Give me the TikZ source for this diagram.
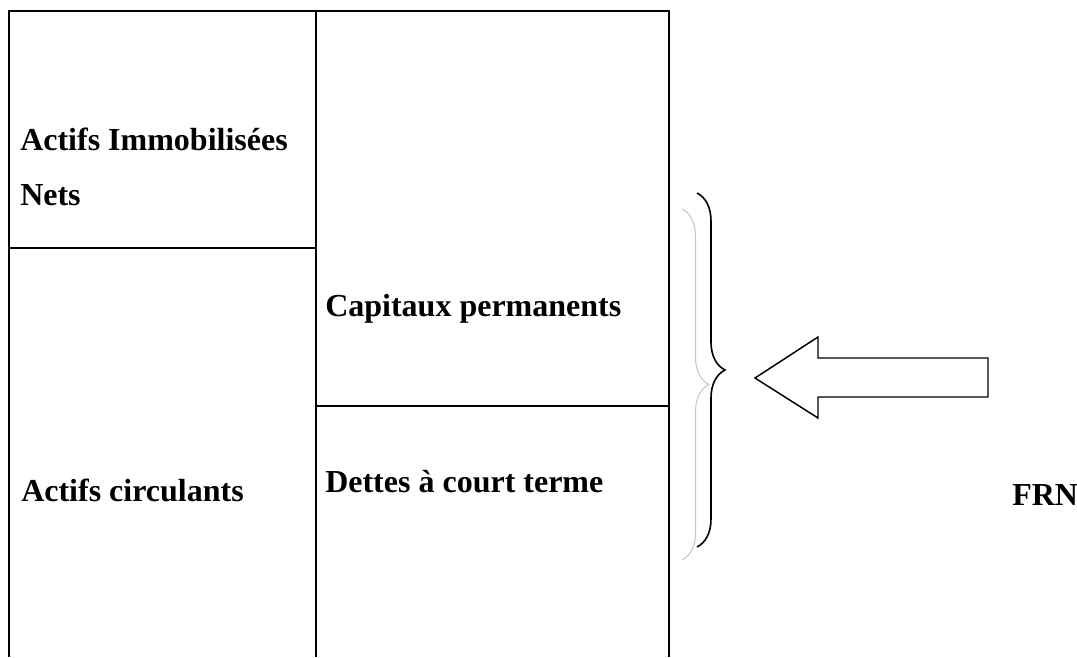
\documentclass[tikz,border=0pt]{standalone}
\usepackage{fontspec}
\setmainfont{Liberation Serif}
\usetikzlibrary{decorations.pathreplacing}
\tikzset{
  cell/.style={anchor=base west,inner sep=0pt,font=\fontsize{24}{30}\selectfont\bfseries},
  rule/.style={line width=1.6pt},
  brc/.style={decorate,decoration={brace,amplitude=#1}}
}

\begin{document}
\begin{tikzpicture}[x=0.75pt,y=-0.75pt]
    \useasboundingbox (0,0) rectangle (1077,657);
    % le tableau
    \coordinate (tl) at (9,11);
    \coordinate (tm) at (316,11);
    \coordinate (tr) at (669,11);
    \draw [rule] (9,657)--(tl)--(tr)--(669,657);
    \draw [rule] (tm)--(316,657);
    \draw [rule] (9,248)--(316,248);
    \draw [rule] (316,406)--(669,406);
    \node [cell] (immo) at (20,150) {Actifs Immobilisées};
    \node [cell] (nets) at (20,205) {Nets};
    \node [cell] (circ) at (21,501) {Actifs circulants};
    \node [cell] (capi) at (325,316) {Capitaux permanents};
    \node [cell] (dett) at (325,492) {Dettes à court terme};
    % accolades
    \draw [brc=27*0.75pt,gray!45,line width=0.8pt] (682,209)--(682,560);
    \draw [brc=28*0.75pt,line width=1.2pt] (697,193)--(697,547);
    % la flèche
    \draw [line width=1.1pt,line join=miter] (755,378)--(818,337)--(818,358)--(988,358)--(988,397)--(818,397)--(818,418)--cycle;
    \node [cell] (frn) at (1012,505) {FRN};
\end{tikzpicture}
\end{document}
